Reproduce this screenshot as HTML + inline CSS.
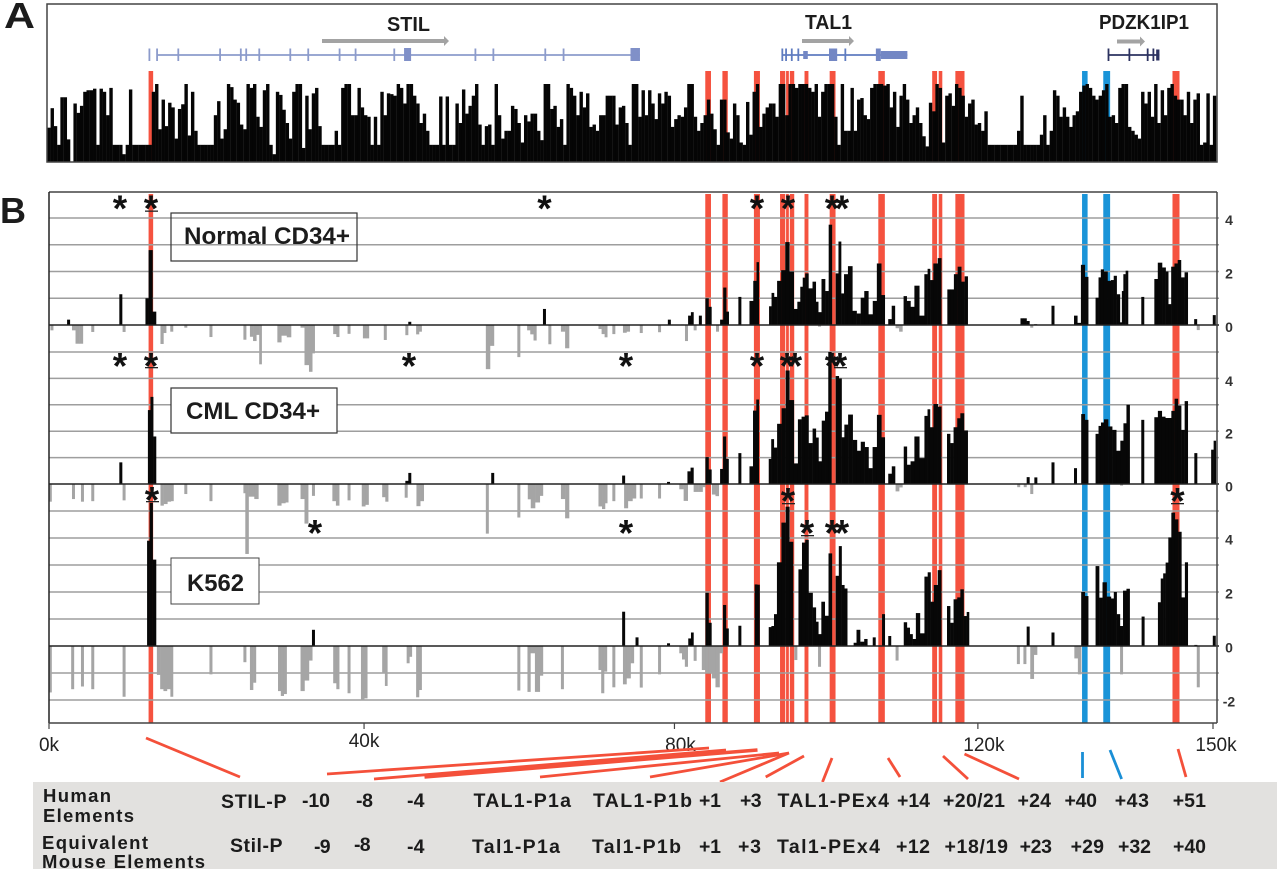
<!DOCTYPE html>
<html lang="en">
<head>
<meta charset="utf-8">
<title>TAL1 locus chromatin tracks</title>
<style>
html,body{margin:0;padding:0;background:#fff;}
svg{display:block;font-family:"Liberation Sans",sans-serif;}
.gl{font-weight:bold;fill:#1c1c1c;}
.star{font-size:37px;font-weight:bold;fill:#111;text-anchor:middle;}
.tb{font-size:19.5px;font-weight:bold;fill:#1b1b1b;}
.th{font-size:18.5px;font-weight:bold;fill:#1b1b1b;}
.rt{font-size:14px;font-weight:bold;fill:#333;text-anchor:middle;}
.xt{font-size:19px;fill:#222;}
</style>
</head>
<body>
<svg id="chart" width="1280" height="872" viewBox="0 0 1280 872" xmlns="http://www.w3.org/2000/svg">
<rect x="0" y="0" width="1280" height="872" fill="#fff"/>
<g id="panelABands"></g>
<g id="panelABars"></g>
<rect x="47" y="4" width="1170" height="158" fill="none" stroke="#444" stroke-width="1.5"/>
<text class="gl" x="4" y="28" font-size="36" textLength="31" lengthAdjust="spacingAndGlyphs" style="font-weight:bold">A</text>
<text class="gl" x="0" y="223" font-size="36" textLength="26" lengthAdjust="spacingAndGlyphs" style="font-weight:bold">B</text>

<g id="genes"></g>
<text class="gl" x="387" y="31" font-size="20" textLength="43" lengthAdjust="spacingAndGlyphs">STIL</text>
<text class="gl" x="805" y="29" font-size="20" textLength="47" lengthAdjust="spacingAndGlyphs">TAL1</text>
<text class="gl" x="1099" y="29" font-size="20" textLength="90" lengthAdjust="spacingAndGlyphs">PDZK1IP1</text>
<g fill="#a3a3a3">
<path d="M322 39h122v-3l5 5-5 5v-3h-122z"/>
<path d="M802 39h47v-3l5 5-5 5v-3h-47z"/>
<path d="M1117 39.500h23v-3l5 5-5 5v-3h-23z"/>
</g>

<g id="panelBBands"></g>
<g id="grid"></g>
<g id="trackBars"></g>
<g id="zeroLines"></g>

<g stroke="#444" stroke-width="1.5" fill="none">
<path d="M49 192H1217"/>
<path d="M49 192V723" stroke="#222"/>
<path d="M1217 192V723"/>
<path d="M49 723H1217"/>
</g>
<g id="xAxis"></g>
<g id="yAxis"></g>

<g>
<rect x="171" y="213" width="186" height="48" fill="none" stroke="#333" stroke-width="1.2"/>
<text class="gl" x="184" y="244" font-size="24" textLength="166" lengthAdjust="spacingAndGlyphs">Normal CD34+</text>
</g>
<g>
<rect x="171" y="388" width="166" height="45" fill="#fff" stroke="#333" stroke-width="1.2"/>
<text class="gl" x="186" y="419" font-size="24" textLength="134" lengthAdjust="spacingAndGlyphs">CML CD34+</text>
</g>
<g>
<rect x="171" y="558" width="88" height="46" fill="#fff" stroke="#444" stroke-width="1"/>
<text class="gl" x="187" y="591" font-size="24" textLength="57" lengthAdjust="spacingAndGlyphs">K562</text>
</g>

<g>
<g>
<text class="star" x="120" y="221">*</text>
<text class="star" x="151" y="221">*</text>
<text class="star" x="544.500" y="221">*</text>
<text class="star" x="757" y="221">*</text>
<text class="star" x="788" y="221">*</text>
<text class="star" x="832" y="221">*</text>
<text class="star" x="842" y="221">*</text>
<rect x="145" y="210.500" width="13" height="1.300" fill="#222"/>
</g>
<g>
<text class="star" x="120" y="378.500">*</text>
<text class="star" x="151" y="378.500">*</text>
<text class="star" x="409" y="378.500">*</text>
<text class="star" x="626" y="378.500">*</text>
<text class="star" x="757" y="378.500">*</text>
<text class="star" x="787" y="378.500">*</text>
<text class="star" x="795" y="378.500">*</text>
<text class="star" x="832" y="378.500">*</text>
<text class="star" x="840" y="378.500">*</text>
<rect x="145" y="367" width="13" height="1.300" fill="#222"/>
<rect x="834" y="367" width="13" height="1.300" fill="#222"/>
</g>
<g>
<text class="star" x="152" y="512.500">*</text>
<text class="star" x="315" y="545.500">*</text>
<text class="star" x="626" y="545.500">*</text>
<text class="star" x="788" y="513.500">*</text>
<text class="star" x="807" y="545.500">*</text>
<text class="star" x="832" y="545.500">*</text>
<text class="star" x="842" y="545.500">*</text>
<text class="star" x="1177.500" y="513.500">*</text>
<rect x="146" y="501" width="13" height="1.300" fill="#222"/>
<rect x="782" y="503" width="13" height="1.300" fill="#222"/>
<rect x="801" y="535" width="13" height="1.300" fill="#222"/>
<rect x="1171" y="503" width="13" height="1.300" fill="#222"/>
</g>
</g>

<g stroke="#f4503a" stroke-width="2.800" fill="none">
<path d="M146 738L240 777"/>
<path d="M327 774L709 748"/>
<path d="M374 779L726 750"/>
<path d="M424.500 777L757.500 750" stroke-width="3.500"/>
<path d="M540 777L779 753"/>
<path d="M650 777L789 753"/>
<path d="M720 782L789 753"/>
<path d="M765.700 777L804 756"/>
<path d="M822.500 782L832 758"/>
<path d="M900 777L888 758"/>
<path d="M968 779L943 756"/>
<path d="M1019 779L964.500 754"/>
<path d="M1082.500 778V752" stroke="#1a8fd6"/>
<path d="M1121.600 779L1110 750" stroke="#1a8fd6"/>
<path d="M1186 777L1178 749"/>
</g>

<g>
<rect x="33" y="782" width="1244" height="87" fill="#e2e1df"/>
<g>
<text class="th" x="43" y="802" textLength="68" lengthAdjust="spacing">Human</text>
<text class="th" x="43" y="822" textLength="91" lengthAdjust="spacing">Elements</text>
<text class="th" x="42" y="849" textLength="106" lengthAdjust="spacing">Equivalent</text>
<text class="th" x="42" y="868" textLength="163" lengthAdjust="spacing">Mouse Elements</text>
</g>
<g>
<text class="tb" x="221" y="808" textLength="65.500" lengthAdjust="spacing">STIL-P</text>
<text class="tb" x="302" y="807" textLength="28" lengthAdjust="spacing">-10</text>
<text class="tb" x="356" y="807" textLength="17" lengthAdjust="spacing">-8</text>
<text class="tb" x="407" y="807" textLength="17.500" lengthAdjust="spacing">-4</text>
<text class="tb" x="473.500" y="807" textLength="97.500" lengthAdjust="spacing">TAL1-P1a</text>
<text class="tb" x="593" y="807" textLength="99" lengthAdjust="spacing">TAL1-P1b</text>
<text class="tb" x="699" y="807" textLength="22" lengthAdjust="spacing">+1</text>
<text class="tb" x="740" y="807" textLength="21.600" lengthAdjust="spacing">+3</text>
<text class="tb" x="777.500" y="807" textLength="111.500" lengthAdjust="spacing">TAL1-PEx4</text>
<text class="tb" x="897" y="807" textLength="33" lengthAdjust="spacing">+14</text>
<text class="tb" x="943" y="807" textLength="62" lengthAdjust="spacing">+20/21</text>
<text class="tb" x="1017.500" y="807" textLength="33.500" lengthAdjust="spacing">+24</text>
<text class="tb" x="1064.500" y="807" textLength="32.500" lengthAdjust="spacing">+40</text>
<text class="tb" x="1114.700" y="807" textLength="34.300" lengthAdjust="spacing">+43</text>
<text class="tb" x="1172.700" y="807" textLength="33.300" lengthAdjust="spacing">+51</text>
</g>
<g>
<text class="tb" x="230" y="852" textLength="52.500" lengthAdjust="spacing">Stil-P</text>
<text class="tb" x="314" y="853" textLength="16.600" lengthAdjust="spacing">-9</text>
<text class="tb" x="354" y="851" textLength="16.600" lengthAdjust="spacing">-8</text>
<text class="tb" x="407" y="853" textLength="17.500" lengthAdjust="spacing">-4</text>
<text class="tb" x="472" y="853" textLength="88" lengthAdjust="spacing">Tal1-P1a</text>
<text class="tb" x="592" y="853" textLength="89" lengthAdjust="spacing">Tal1-P1b</text>
<text class="tb" x="699" y="853" textLength="22" lengthAdjust="spacing">+1</text>
<text class="tb" x="738" y="853" textLength="23" lengthAdjust="spacing">+3</text>
<text class="tb" x="777" y="853" textLength="103" lengthAdjust="spacing">Tal1-PEx4</text>
<text class="tb" x="896" y="853" textLength="34" lengthAdjust="spacing">+12</text>
<text class="tb" x="944.500" y="853" textLength="63.500" lengthAdjust="spacing">+18/19</text>
<text class="tb" x="1019.600" y="853" textLength="32.400" lengthAdjust="spacing">+23</text>
<text class="tb" x="1070.600" y="853" textLength="33.400" lengthAdjust="spacing">+29</text>
<text class="tb" x="1118" y="853" textLength="33" lengthAdjust="spacing">+32</text>
<text class="tb" x="1173" y="853" textLength="33" lengthAdjust="spacing">+40</text>
</g>
</g>
</svg>

<script>
// Genome is split into windows ("bins"); 1 bin is about 0.42 kb.
const conservationScores = [
44,69,46,22,83,83,29,0,75,63,72,90,92,92,94,22,94,90,60,95,22,22,22,10,22,93,22,22,22,22,22,22,90,100,42,80,46,76,70,30,68,74,100,34,90,40,22,22,22,22,22,60,78,30,42,100,96,80,76,48,42,100,95,100,58,45,92,100,22,10,90,86,67,50,30,90,100,100,18,85,42,88,95,46,22,22,22,22,40,22,95,100,100,60,60,95,70,60,58,22,58,22,90,60,88,87,85,100,95,75,100,100,85,75,50,62,40,22,22,22,84,22,84,22,22,75,50,93,62,72,85,100,48,22,46,48,22,100,60,30,40,40,72,68,50,25,60,52,62,62,40,28,100,100,68,72,45,55,22,100,95,85,60,90,70,88,45,48,40,60,60,85,85,85,48,70,72,50,22,100,100,
58,92,60,92,75,55,88,75,90,85,45,55,60,58,70,100,100,58,40,50,60,80,62,42,22,80,80,38,30,75,60,25,22,77,35,90,100,45,62,70,75,75,58,100,100,60,100,100,95,100,100,100,95,90,100,58,90,100,100,100,58,22,100,40,40,95,40,80,82,60,55,95,100,100,100,98,100,70,90,45,85,100,80,50,60,70,50,33,20,76,65,100,95,25,85,88,72,100,95,85,58,75,80,48,50,40,65,22,22,22,22,22,22,22,22,22,40,85,22,22,22,22,22,35,60,22,40,92,85,58,70,58,45,60,65,90,98,100,95,85,80,85,92,100,58,60,50,95,100,100,45,40,35,30,90,75,90,58,100,50,92,60,95,100,85,80,80,60,90,50,80,88,22,25,88,22,85];

// Regulatory element bands (window ranges)
const bandStarts = [30.5,201,206.25,215.9,223.9,225.75,226.9,231.4,239.1,254,270.5,272.5,277.6,316.4,322.9,344.1];
const bandEnds = [31.9,202.75,207.9,217.75,225.5,226.6,228.25,232.6,240.9,256,272,273.6,280.4,318.1,325,346.25];
const bandKinds = ['red','red','red','red','red','red','red','red','red','red','red','red','red','blue','blue','red'];

// Normal CD34+ track
const normalPosBins = [6,22,30,31,32.4,110.5,151.75,190,194,196.2,197,199.5,201.5,202.5,206,207,207.8,211.6,215,216.4,217,221,221.6,222.5,223.5,225,226,227.5,228.7,229.7,230.5,231.2,232,233.2,234.5,235.2,236,237.2,238.2,239.4,241.4,242.2,243,244,245.4,246.7,248,249.2,250.2,251.7,252.9,254.2,255.6,257.5,258.7,262.2,263.2,264.5,265.6,267.5,268.7,269.5,270.2,271.5,272.9,275.6,276.6,277.7,278.9,279.9,281,298,298.9,299.9,302.2,307.5,314.4,315.5,316.6,317.9,321,321.9,322.4,323.7,324.7,325.7,326.5,327.5,328.5,328.7,329.4,330.1,335,339,340.2,341.6,342.4,343.2,344.2,345.2,346.2,347.2,348.4,351.2,356.9];
const normalPosValues = [0.2,1.15,1,2.8,0.5,0.12,0.6,0.2,0.02,0.35,0.48,0.35,1,0.68,0.2,1.4,0.5,1.05,0.9,1.65,2.35,0.7,1.2,1.05,1.65,2.05,3.1,2,0.6,0.87,1.43,1.77,1.93,1.37,1.62,0.87,0.48,1.72,1.27,3.75,1.93,3.12,1.18,1.9,2.2,0.53,0.43,1.02,1.27,0.4,0.9,2.3,1.12,0.22,0.72,1.08,0.9,0.68,1.47,0.35,1.9,2.1,1.68,2.3,2.5,1.33,1.33,1.9,2.18,1.62,1.82,0.25,0.25,0.15,0.03,0.72,0.35,0.08,2.25,1.8,1.02,1.78,2.08,2,1.65,1.68,1.84,1.15,0.1,1.27,1.9,2.03,1.05,1.72,2.33,2.15,2,0.78,2.18,2.3,2.43,1.78,1.97,0.22,0.37];
const normalNegBins = [0.9,7.5,8.75,10,13.4,23,34.6,35.5,37.6,41.9,49.6,60,62,63,64,64.75,70.4,71.9,73.75,77.5,79,80.25,81,87.5,88.5,91.9,96.6,97.6,103,109.6,112.9,113.75,134.25,135.9,143.9,146.9,147.9,148.9,153.4,157.25,158.9,168.75,169.75,170.6,173,176.25,177.5,181.4,187,195.25,197.9,204.75,236,259.75,261,301,352];
const normalNegValues = [-0.2,-0.2,-0.7,-0.7,-0.26,-0.26,-0.71,-0.3,-0.25,-0.1,-0.45,-0.55,-0.44,-0.6,-0.37,-1.47,-0.65,-0.4,-0.46,-0.1,-1.5,-1.75,-1.06,-0.34,-0.45,-0.33,-0.5,-0.5,-0.56,-0.38,-0.35,-0.25,-1.65,-0.78,-1.2,-0.2,-0.35,-0.58,-0.72,-0.25,-0.87,-0.15,-0.34,-0.46,-0.34,-0.29,-0.25,-0.3,-0.27,-0.6,-0.2,-0.25,-0.06,-0.12,-0.25,-0.1,-0.19];

// CML CD34+ track
const cmlPosBins = [22,30.75,31.4,32.4,109.6,110.5,135.9,176,189.75,196,197,201.5,202.5,206,206.9,207.75,211.6,215,216.25,217,220.9,221.5,222.5,223.5,225.25,226,227.5,228.75,230,231,232,233.25,234.5,235.25,236.1,237.25,238.1,239.25,241.4,242.4,243.1,244.1,245.4,246.9,248,249.25,250.4,251.6,252.9,254.25,255.6,257.5,258.75,262.25,263.25,264.5,265.6,267.5,268.75,269.4,270.25,271.5,272.9,275.5,276.5,277.6,278.75,279.5,281,299.9,302.25,307.5,314.4,316.6,317.9,321,321.9,322.5,323.75,325,326.25,327.5,328.75,329.4,330.6,335,339,340.25,341.4,342.4,343.25,344.25,345.25,346.25,347.25,348.4,351.25,356.4,357];
const cmlPosValues = [0.82,2.8,3.3,1.8,0.12,0.42,0.42,0.32,0.08,0.48,0.62,1.02,0.55,0.57,1.8,0.95,1.17,0.67,2.78,3.2,0.95,1.7,1.38,2.28,2.87,4.3,3.18,0.78,2.45,2.55,2.6,1.55,2.1,1.76,0.86,2.4,2.74,5,4.09,4,1.77,2.25,2.63,1.67,1.26,1.6,1.4,0.6,1.4,2.62,1.77,0.39,0.67,1.42,0.73,0.86,1.8,0.98,2.58,2.83,2.15,3.03,2.93,1.9,1.55,2.15,2.49,2.68,2.03,0.26,0.25,0.82,0.6,2.65,2.43,1.9,2.2,2.33,2.45,2.18,2.05,1.26,1.64,2.3,3,2.43,2.53,2.77,2.55,2.5,2.5,2.77,3.23,2.97,2.05,3.14,1.17,1.3,1.64];
const cmlNegBins = [0.4,7.5,10.25,13.4,23,34.6,35.6,36.9,37.75,41.9,49.6,60,60.25,62,63.75,70.4,71.9,72.9,77.5,79,81,87.25,88.5,91.9,96.25,97.5,102.5,103.5,109.4,113,114.4,134.25,143.9,147.1,148,149.75,150.9,157.25,158.9,168.75,170,170.6,173,176.6,178,179.4,181.4,187,193.5,195.25,197.9,199.75,200.6,203.5,204.75,259.75,261,297,299,301,328.5];
const cmlNegValues = [-0.67,-0.57,-0.67,-0.65,-0.62,-0.82,-0.76,-0.67,-0.65,-0.38,-0.65,-0.35,-2.65,-0.48,-0.57,-0.82,-0.73,-0.7,-0.57,-1.5,-0.45,-0.65,-0.82,-0.62,-0.85,-0.79,-0.5,-0.67,-0.52,-0.84,-0.65,-1.88,-1.27,-0.58,-0.92,-0.7,-0.45,-0.57,-1.3,-0.85,-0.95,-0.73,-0.65,-0.92,-0.65,-0.55,-0.55,-0.55,-0.2,-0.64,-0.3,-0.3,-0.12,-0.4,-0.46,-0.28,-0.13,-0.12,-0.12,-0.38,-0.06];

// K562 track
const k562PosBins = [30.5,31.1,32.4,81,176,180.1,189.75,196.25,197,201.5,202.5,206.9,207.75,211.6,216.6,217.25,220.9,221.6,222.5,223.4,225.25,226,227.5,230,231.25,232,233.25,234.5,235.25,236,237.1,238.1,239.4,241.4,242.4,243.1,244.1,246.9,247.75,249.1,250.25,252.75,255.6,257.5,262.25,263.25,264,265,266,267.5,268.75,269.5,270.5,271.5,272.9,275.5,276.5,277.6,278.75,279.5,280.75,281.4,299.9,307.5,316.6,317.9,321,322.25,323.1,324.75,325.75,326.5,327.5,328.5,329.4,330.6,335.1,340.1,340.9,341.6,342.4,343.25,344.25,345.4,346.25,347.4,348.4,351.25,356.9];
const k562PosValues = [3.9,5.3,3.2,0.6,1.27,0.32,0.1,0.28,0.5,1.97,0.86,1.52,0.65,0.75,2.28,2.27,0.7,0.74,1.18,3.1,4.57,5.16,3.86,2.84,3.83,3.93,1.97,1.43,0.9,0.44,1.64,1.12,3.43,2.6,3.7,2.26,2.13,0.12,0.6,0.16,0.26,0.32,1.18,0.37,0.88,0.68,0.44,0.26,1.22,0.47,2.57,2.73,1.64,2.26,2.81,1.48,0.86,1.73,1.8,2.1,1.11,1.26,0.72,0.5,2,1.85,2.96,1.79,2.36,1.83,1.76,2,1.18,0.74,2.05,2.12,1.09,1.62,2.5,2.69,3.09,4.02,4.94,4.69,4.23,1.8,3.1,0.04,0.38];
const k562NegBins = [0.4,7.25,10.25,13.4,23,33.5,34.6,35.5,36.75,37.6,49.6,60,62,63,70.6,71.4,72.4,77.5,79,80.25,87.5,88.5,91.9,96,97.1,102.5,103.25,110,110.75,112.9,113.75,143.9,147,147.9,149.75,150.9,157.25,168.75,169.5,170.5,173,176.25,177.5,178.75,181.4,187,193.5,194.25,195.25,197.9,200.4,201.6,202.5,203.5,204.75,206,228.75,236,259.75,296.9,298.9,301,302.25,314.5,315.75,328.5,352];
const k562NegValues = [-1.72,-1.6,-1.5,-1.6,-1.88,-1.07,-1.6,-1.67,-1.6,-1.88,-1.05,-0.6,-1.63,-1.36,-1.67,-1.85,-1.78,-1.67,-1.28,-0.54,-1.38,-1.6,-1.75,-2.02,-1.94,-1.01,-1.48,-0.64,-0.4,-1.9,-1.63,-1.65,-1.7,-0.27,-1.7,-1.1,-1.6,-0.89,-1.75,-0.95,-1.53,-1.42,-1.2,-0.64,-1.54,-1.05,-0.27,-0.5,-0.77,-0.55,-0.89,-1,-1,-1.2,-1.53,-0.27,-0.52,-0.77,-0.54,-0.67,-0.67,-1.22,-0.33,-0.46,-1.05,-1.05,-1.53];

// Axes
const xTickValues = [0,40.6,80.6,119.7,150];
const xTickLabels = ['0k','40k','80k','120k','150k'];
const normalYTicks = [4,2,0];
const cmlYTicks = [4,2,0];
const k562YTicks = [4,2,0,-2];
const normalGridValues = [4,3,2,1];
const cmlGridValues = [5,4,3,2,1];
const k562GridValues = [5,4,3,2,1,-1,-2];

// Gene models (window coordinates)
const stilExons = [30.75,33.1,39.6,52.4,58.75,60.4,64.4,73.9,79.4,89,93.9,105.75,130.6,136.1,152,157.6];
const tal1Exons = [224.6,225.75,227.5,229.5,243.9];
const pdzkExons = [324.5,330.9,336.5,338.25];

const NS = 'http://www.w3.org/2000/svg';
function xBin(b){ return 49 + 3.265 * b; }
function xKb(k){ return 49 + 7.76 * k; }
function trackY(zero, unit){ return function(v){ return zero - v * unit; }; }
function yPanelA(v){ return 162 - v * 0.78; }
function mk(tag, parent, attrs){
  const el = document.createElementNS(NS, tag);
  for (const k in attrs) el.setAttribute(k, attrs[k]);
  parent.appendChild(el);
  return el;
}
// Neighbouring windows merge into a solid block; isolated ones stay narrow.
function barSpan(bins, i, isolatedWidth){
  const gap = i + 1 < bins.length ? bins[i + 1] - bins[i] : 9;
  const prev = i > 0 ? bins[i] - bins[i - 1] : 9;
  const left = prev < 1.9 ? xBin(bins[i]) - prev * 3.265 / 2 : xBin(bins[i]) - isolatedWidth / 2;
  const right = gap < 1.9 ? xBin(bins[i]) + gap * 3.265 / 2 + 0.25 : xBin(bins[i]) + isolatedWidth / 2;
  return {x: left, width: right - left};
}

const panelABands = document.getElementById('panelABands');
const panelBBands = document.getElementById('panelBBands');
bandStarts.forEach(function(start, i){
  const fill = bandKinds[i] === 'blue' ? '#1a94d8' : '#f5523f';
  const a = mk('rect', panelABands, {x: xBin(start), y: 71, width: xBin(bandEnds[i]) - xBin(start), height: 91, fill: fill});
  
  
  const b = mk('rect', panelBBands, {x: xBin(start), y: 194, width: xBin(bandEnds[i]) - xBin(start), height: 529, fill: fill});
  
  
});

const panelABars = document.getElementById('panelABars');
conservationScores.forEach(function(score, i){
  const r = mk('rect', panelABars, {x: xBin(i) - 1.7, y: yPanelA(score), width: 3.4, height: 162 - yPanelA(score), fill: '#050505'});
  
  
});

const tracks = [
  {y: trackY(325, 26.75), zero: 325, pb: normalPosBins, pv: normalPosValues, nb: normalNegBins, nv: normalNegValues, grid: normalGridValues, ticks: normalYTicks, off: 2},
  {y: trackY(484, 26.4), zero: 484, pb: cmlPosBins, pv: cmlPosValues, nb: cmlNegBins, nv: cmlNegValues, grid: cmlGridValues, ticks: cmlYTicks, off: 2.5},
  {y: trackY(646, 27), zero: 646, pb: k562PosBins, pv: k562PosValues, nb: k562NegBins, nv: k562NegValues, grid: k562GridValues, ticks: k562YTicks, off: 1.5}
];
const grid = document.getElementById('grid');
const trackBars = document.getElementById('trackBars');
const zeroLines = document.getElementById('zeroLines');
const yAxis = document.getElementById('yAxis');
tracks.forEach(function(t){
  t.grid.forEach(function(v){
    const l = mk('line', grid, {x1: 49, x2: 1219, y1: t.y(v), y2: t.y(v), stroke: '#9e9e9e', 'stroke-width': 1.5});
    
    
  });
  t.nb.forEach(function(b, i){
    const span = barSpan(t.nb, i, 3);
    const r = mk('rect', trackBars, {x: span.x, y: t.y(0), width: span.width, height: t.y(t.nv[i]) - t.y(0), fill: '#a5a5a5'});
    
    
  });
  t.pb.forEach(function(b, i){
    const span = barSpan(t.pb, i, 3);
    const r = mk('rect', trackBars, {x: span.x, y: t.y(t.pv[i]), width: span.width, height: t.y(0) - t.y(t.pv[i]), fill: '#070707'});
    
    
  });
  const z = mk('line', zeroLines, {x1: 49, x2: 1219, y1: t.zero, y2: t.zero, stroke: '#222', 'stroke-width': 1.5});
  
  
  t.ticks.forEach(function(v){
    const lab = mk('text', yAxis, {x: 1229, y: t.y(v) + t.off + 5, class: 'rt'});
    
    
    lab.textContent = String(v);
  });
});

const xAxis = document.getElementById('xAxis');
xTickValues.forEach(function(k, i){
  const tick = mk('line', xAxis, {x1: xKb(k), x2: xKb(k), y1: 723, y2: 729, stroke: '#444', 'stroke-width': 1.2});
  
  
  const lab = mk('text', xAxis, {x: xKb(k) + (i === 2 ? 6 : i === 3 ? 6 : i === 4 ? 3 : 0), y: i === 1 ? 747 : 751, class: 'xt', 'text-anchor': 'middle'});
  
  
  lab.textContent = xTickLabels[i];
});

const genes = document.getElementById('genes');
function geneLine(b0, b1, color, parent){
  const l = mk('line', parent, {x1: xBin(b0), x2: xBin(b1), y1: 55, y2: 55, stroke: color, 'stroke-width': 1.8});
  
  
}
function geneExon(b, color, parent){
  const l = mk('line', parent, {x1: xBin(b), x2: xBin(b), y1: 48.5, y2: 61, stroke: color, 'stroke-width': 1.8});
  
  
}
function geneBlock(b0, b1, top, bottom, color, parent){
  const r = mk('rect', parent, {x: xBin(b0), y: top, width: xBin(b1) - xBin(b0), height: bottom - top, fill: color});
  
  
}
geneLine(33.1, 181, '#8c9bcb', genes);
stilExons.forEach(function(b){ geneExon(b, '#8c9bcb', genes); });
geneBlock(108.75, 110.9, 48, 61, '#8090c8', genes);
geneBlock(178.1, 181, 48, 61, '#8090c8', genes);
geneLine(224.6, 262.9, '#5f7cc0', genes);
tal1Exons.forEach(function(b){ geneExon(b, '#5f7cc0', genes); });
geneBlock(231, 232.4, 51, 59, '#7387c4', genes);
geneBlock(238.9, 241.4, 48.500, 61, '#7387c4', genes);
geneBlock(253.25, 254.75, 48.500, 61, '#7387c4', genes);
geneBlock(254.75, 262.9, 51, 59, '#7387c4', genes);
geneLine(324.5, 340.1, '#2c3260', genes);
pdzkExons.forEach(function(b){ geneExon(b, '#2c3260', genes); });
geneBlock(339.1, 340.1, 49.500, 60.500, '#2c3260', genes);
</script>
</body>
</html>
